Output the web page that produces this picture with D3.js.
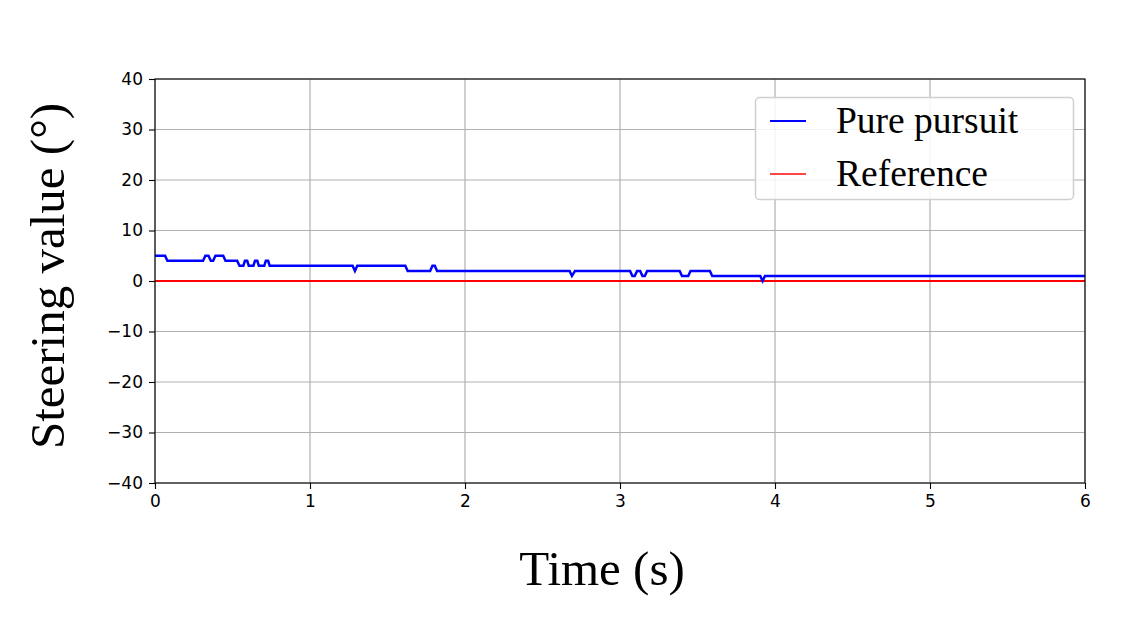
<!DOCTYPE html>
<html><head><meta charset="utf-8">
<script src="https://cdn.jsdelivr.net/npm/d3@7"></script>
<style>body{margin:0;background:#fff}svg{display:block}</style>
</head><body>
<svg id="c" width="1134" height="627"></svg>
<script>
const xTicks = [0,1,2,3,4,5,6];
const yTicks = [-40,-30,-20,-10,0,10,20,30,40];
const seriesNames = ["Pure pursuit","Reference"];
const ppTime = [0,0.065,0.08,0.31,0.325,0.345,0.36,0.375,0.39,0.44,0.455,0.53,0.545,0.57,0.58,0.595,0.605,0.635,0.645,0.66,0.67,0.705,0.715,0.73,0.74,1.275,1.29,1.305,1.615,1.63,1.775,1.79,1.805,1.82,2.675,2.69,2.71,3.065,3.08,3.095,3.11,3.13,3.145,3.16,3.175,3.385,3.4,3.44,3.455,3.58,3.595,3.905,3.92,3.935,6];
const ppValue = [5,5,4,4,5,5,4,4,5,5,4,4,3,3,4,4,3,3,4,4,3,3,4,4,3,3,2,3,3,2,2,3,3,2,2,1,2,2,1,1,2,2,1,1,2,2,1,1,2,2,1,1,0,1,1];
const refTime = [0,6];
const refValue = [0,0];

const svg = d3.select("#c");
const L=155,R=1085,T=79,B=483;
const x = d3.scaleLinear().domain([0,6]).range([L,R]);
const y = d3.scaleLinear().domain([-40,40]).range([B,T]);

// grid
svg.append("g").selectAll("line").data(xTicks).join("line")
  .attr("x1",d=>x(d)).attr("x2",d=>x(d)).attr("y1",T).attr("y2",B)
  .attr("stroke","#b0b0b0").attr("stroke-width",1.2);
svg.append("g").selectAll("line").data(yTicks).join("line")
  .attr("y1",d=>y(d)).attr("y2",d=>y(d)).attr("x1",L).attr("x2",R)
  .attr("stroke","#b0b0b0").attr("stroke-width",1.2);

const fmt = d=> d<0 ? "\u2212"+Math.abs(d) : String(d);
const xa = svg.append("g").attr("transform",`translate(0,${B})`)
  .call(d3.axisBottom(x).tickValues(xTicks).tickFormat(fmt).tickSize(6).tickPadding(6));
const ya = svg.append("g").attr("transform",`translate(${L},0)`)
  .call(d3.axisLeft(y).tickValues(yTicks).tickFormat(fmt).tickSize(6).tickPadding(6));
[xa,ya].forEach(a=>{a.select(".domain").remove();
  a.selectAll("text").attr("font-family","DejaVu Sans").attr("font-size",17).attr("fill","#000");
  a.selectAll("line").attr("stroke","#000").attr("stroke-width",1.1);});

const line = d3.line().x(d=>x(d[0])).y(d=>y(d[1]));
svg.append("path").datum(refTime.map((t,i)=>[t,refValue[i]])).attr("d",line)
  .attr("fill","none").attr("stroke","#ff0000").attr("stroke-width",2.2);
svg.append("path").datum(ppTime.map((t,i)=>[t,ppValue[i]])).attr("d",line)
  .attr("fill","none").attr("stroke","#0000ff").attr("stroke-width",2.5);

svg.append("rect").attr("x",L).attr("y",T).attr("width",R-L).attr("height",B-T)
  .attr("fill","none").attr("stroke","#000").attr("stroke-width",1.1);

// legend
svg.append("rect").attr("x",755.5).attr("y",97.5).attr("width",318).attr("height",102).attr("rx",4)
  .attr("fill","#fff").attr("fill-opacity",0.85).attr("stroke","#d0d0d0").attr("stroke-width",1.5);
const lg = [{n:seriesNames[0],c:"#0000ff",y:121},{n:seriesNames[1],c:"#ff4444",y:174}];
lg.forEach(d=>{
  svg.append("line").attr("x1",770).attr("x2",806).attr("y1",d.y).attr("y2",d.y)
    .attr("stroke",d.c).attr("stroke-width",2.2);
  svg.append("text").attr("x",836).attr("y",d.y+12).text(d.n)
    .attr("font-family","Liberation Serif").attr("font-size",37.5).attr("fill","#000");
});

svg.append("text").attr("x",602).attr("y",585).attr("text-anchor","middle")
  .attr("font-family","Liberation Serif").attr("font-size",49).text("Time (s)");
svg.append("text").attr("transform","translate(64,276) rotate(-90)").attr("text-anchor","middle")
  .attr("font-family","Liberation Serif").attr("font-size",49).text("Steering value (°)");
</script>
</body></html>
